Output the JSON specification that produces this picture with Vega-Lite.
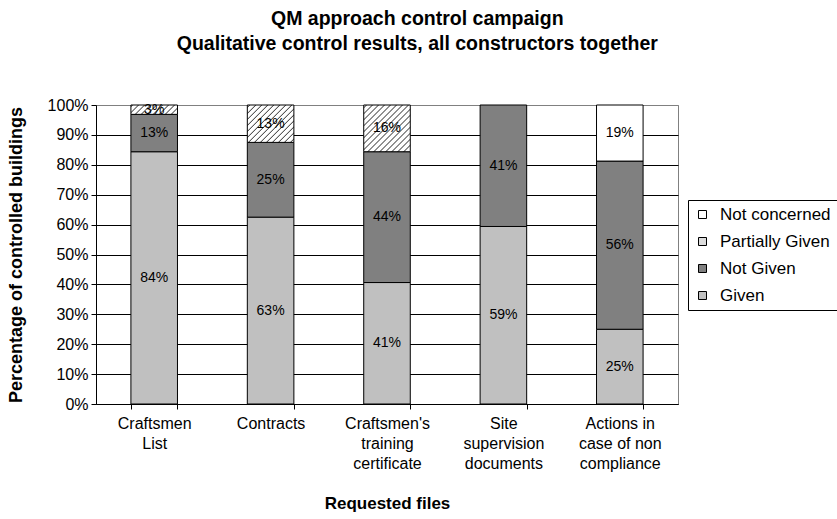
{
  "$schema": "https://vega.github.io/schema/vega-lite/v6.json",
  "autosize": {"type": "none"},
  "width": 582,
  "height": 299,
  "padding": {"left": 96, "top": 105, "right": 159, "bottom": 115},
  "background": "white",
  "config": {
    "font": "Liberation Sans",
    "view": {"stroke": "#808080", "strokeWidth": 1},
    "axis": {"labelColor": "black", "titleColor": "black", "domainColor": "black", "tickColor": "black", "labelFont": "Liberation Sans", "titleFont": "Liberation Sans"},
    "legend": {"labelFont": "Liberation Sans"}
  },
  "title": {
    "text": ["QM approach control campaign", "Qualitative control results, all constructors together"],
    "fontSize": 19.5,
    "fontWeight": "bold",
    "color": "black",
    "lineHeight": 25,
    "frame": "bounds",
    "anchor": "middle",
    "offset": 43,
    "dx": -5
  },
  "data": {
    "values": [
      {"file": "Craftsmen List", "status": "Given", "value": 0.84375},
      {"file": "Craftsmen List", "status": "Not Given", "value": 0.125},
      {"file": "Craftsmen List", "status": "Partially Given", "value": 0.03125},
      {"file": "Contracts", "status": "Given", "value": 0.625},
      {"file": "Contracts", "status": "Not Given", "value": 0.25},
      {"file": "Contracts", "status": "Partially Given", "value": 0.125},
      {"file": "Craftsmen's training certificate", "status": "Given", "value": 0.40625},
      {"file": "Craftsmen's training certificate", "status": "Not Given", "value": 0.4375},
      {"file": "Craftsmen's training certificate", "status": "Partially Given", "value": 0.15625},
      {"file": "Site supervision documents", "status": "Given", "value": 0.59375},
      {"file": "Site supervision documents", "status": "Not Given", "value": 0.40625},
      {"file": "Actions in case of non compliance", "status": "Given", "value": 0.25},
      {"file": "Actions in case of non compliance", "status": "Not Given", "value": 0.5625},
      {"file": "Actions in case of non compliance", "status": "Not concerned", "value": 0.1875}
    ]
  },
  "encoding": {
    "x": {
      "field": "file",
      "type": "nominal",
      "sort": null,
      "scale": {"paddingInner": 0.6, "paddingOuter": 0.3},
      "axis": {
        "title": "Requested files",
        "titleFontSize": 17,
        "titleFontWeight": "bold",
        "titlePadding": 24,
        "labelAngle": 0,
        "labelFontSize": 16,
        "labelLineHeight": 20,
        "labelPadding": 6,
        "tickSize": 5,
        "tickBand": "extent",
        "labelExpr": "datum.label === 'Craftsmen List' ? ['Craftsmen', 'List'] : datum.label === 'Contracts' ? ['Contracts'] : datum.label === \"Craftsmen's training certificate\" ? [\"Craftsmen's\", 'training', 'certificate'] : datum.label === 'Site supervision documents' ? ['Site', 'supervision', 'documents'] : datum.label === 'Actions in case of non compliance' ? ['Actions in', 'case of non', 'compliance'] : ''"
      }
    }
  },
  "layer": [
    {
      "mark": {"type": "bar", "stroke": "black", "strokeWidth": 1},
      "encoding": {
        "y": {
          "field": "value",
          "type": "quantitative",
          "stack": "zero",
          "scale": {"domain": [0, 1], "nice": false},
          "axis": {
            "title": "Percentage of controlled buildings",
            "titleFontSize": 18,
            "titleFontWeight": "bold",
            "titlePadding": 22,
            "values": [0, 0.1, 0.2, 0.3, 0.4, 0.5, 0.6, 0.7, 0.8, 0.9, 1],
            "labelOverlap": false,
            "format": ".0%",
            "labelFontSize": 16,
            "labelPadding": 3,
            "tickSize": 5,
            "grid": true,
            "gridColor": {"condition": {"test": "datum.value === 1", "value": "#808080"}, "value": "black"},
            "gridOpacity": 1
          }
        },
        "order": {"field": "status", "sort": "ascending"},
        "fill": {
          "field": "status",
          "type": "nominal",
          "scale": {
            "domain": ["Not concerned", "Partially Given", "Not Given", "Given"],
            "range": ["#ffffff", "#dcdcdc", "#808080", "#c0c0c0"]
          },
          "legend": {
            "title": null,
            "orient": "none",
            "legendX": 592,
            "legendY": 95,
            "labelFontSize": 17,
            "labelColor": "black",
            "labelOffset": 9,
            "symbolType": "square",
            "symbolSize": 64,
            "symbolStrokeColor": "black",
            "symbolStrokeWidth": 1,
            "rowPadding": 9,
            "padding": 6,
            "strokeColor": "black",
            "fillColor": "white"
          },
          "condition": [
            {
              "test": "datum.status === 'Partially Given' && datum.file === 'Craftsmen List'",
              "value": {
                "gradient": "linear", "x1": 0, "y1": 0, "x2": 1.154, "y2": 0.2315,
                "stops": [
                  {"offset": 0, "color": "#ffffff"},
                  {"offset": 0.008, "color": "#ffffff"}, {"offset": 0.030, "color": "#444444"}, {"offset": 0.052, "color": "#ffffff"},
                  {"offset": 0.115, "color": "#ffffff"}, {"offset": 0.137, "color": "#444444"}, {"offset": 0.159, "color": "#ffffff"},
                  {"offset": 0.223, "color": "#ffffff"}, {"offset": 0.245, "color": "#444444"}, {"offset": 0.267, "color": "#ffffff"},
                  {"offset": 0.330, "color": "#ffffff"}, {"offset": 0.352, "color": "#444444"}, {"offset": 0.374, "color": "#ffffff"},
                  {"offset": 0.437, "color": "#ffffff"}, {"offset": 0.459, "color": "#444444"}, {"offset": 0.481, "color": "#ffffff"},
                  {"offset": 0.545, "color": "#ffffff"}, {"offset": 0.567, "color": "#444444"}, {"offset": 0.589, "color": "#ffffff"},
                  {"offset": 0.652, "color": "#ffffff"}, {"offset": 0.674, "color": "#444444"}, {"offset": 0.696, "color": "#ffffff"},
                  {"offset": 0.759, "color": "#ffffff"}, {"offset": 0.781, "color": "#444444"}, {"offset": 0.803, "color": "#ffffff"},
                  {"offset": 0.866, "color": "#ffffff"}, {"offset": 0.888, "color": "#444444"}, {"offset": 0.910, "color": "#ffffff"},
                  {"offset": 1, "color": "#ffffff"}
                ]
              }
            },
            {
              "test": "datum.status === 'Partially Given' && datum.file === 'Contracts'",
              "value": {
                "gradient": "linear", "x1": 0, "y1": 0, "x2": 1.096, "y2": 0.880,
                "stops": [
                  {"offset": 0, "color": "#ffffff"},
                  {"offset": 0.016, "color": "#ffffff"}, {"offset": 0.030, "color": "#444444"}, {"offset": 0.044, "color": "#ffffff"},
                  {"offset": 0.088, "color": "#ffffff"}, {"offset": 0.102, "color": "#444444"}, {"offset": 0.116, "color": "#ffffff"},
                  {"offset": 0.159, "color": "#ffffff"}, {"offset": 0.173, "color": "#444444"}, {"offset": 0.187, "color": "#ffffff"},
                  {"offset": 0.231, "color": "#ffffff"}, {"offset": 0.245, "color": "#444444"}, {"offset": 0.259, "color": "#ffffff"},
                  {"offset": 0.302, "color": "#ffffff"}, {"offset": 0.316, "color": "#444444"}, {"offset": 0.330, "color": "#ffffff"},
                  {"offset": 0.374, "color": "#ffffff"}, {"offset": 0.388, "color": "#444444"}, {"offset": 0.402, "color": "#ffffff"},
                  {"offset": 0.445, "color": "#ffffff"}, {"offset": 0.459, "color": "#444444"}, {"offset": 0.473, "color": "#ffffff"},
                  {"offset": 0.517, "color": "#ffffff"}, {"offset": 0.531, "color": "#444444"}, {"offset": 0.545, "color": "#ffffff"},
                  {"offset": 0.588, "color": "#ffffff"}, {"offset": 0.602, "color": "#444444"}, {"offset": 0.616, "color": "#ffffff"},
                  {"offset": 0.660, "color": "#ffffff"}, {"offset": 0.674, "color": "#444444"}, {"offset": 0.688, "color": "#ffffff"},
                  {"offset": 0.731, "color": "#ffffff"}, {"offset": 0.745, "color": "#444444"}, {"offset": 0.759, "color": "#ffffff"},
                  {"offset": 0.803, "color": "#ffffff"}, {"offset": 0.817, "color": "#444444"}, {"offset": 0.831, "color": "#ffffff"},
                  {"offset": 0.874, "color": "#ffffff"}, {"offset": 0.888, "color": "#444444"}, {"offset": 0.902, "color": "#ffffff"},
                  {"offset": 0.946, "color": "#ffffff"}, {"offset": 0.960, "color": "#444444"}, {"offset": 0.974, "color": "#ffffff"},
                  {"offset": 1, "color": "#ffffff"}
                ]
              }
            },
            {
              "test": "datum.status === 'Partially Given' && datum.file === \"Craftsmen's training certificate\"",
              "value": {
                "gradient": "linear", "x1": 0, "y1": 0, "x2": 0.9985, "y2": 1.0015,
                "stops": [
                  {"offset": 0, "color": "#ffffff"},
                  {"offset": 0.017, "color": "#ffffff"}, {"offset": 0.030, "color": "#444444"}, {"offset": 0.043, "color": "#ffffff"},
                  {"offset": 0.081, "color": "#ffffff"}, {"offset": 0.094, "color": "#444444"}, {"offset": 0.107, "color": "#ffffff"},
                  {"offset": 0.146, "color": "#ffffff"}, {"offset": 0.159, "color": "#444444"}, {"offset": 0.172, "color": "#ffffff"},
                  {"offset": 0.210, "color": "#ffffff"}, {"offset": 0.223, "color": "#444444"}, {"offset": 0.236, "color": "#ffffff"},
                  {"offset": 0.274, "color": "#ffffff"}, {"offset": 0.287, "color": "#444444"}, {"offset": 0.300, "color": "#ffffff"},
                  {"offset": 0.339, "color": "#ffffff"}, {"offset": 0.352, "color": "#444444"}, {"offset": 0.365, "color": "#ffffff"},
                  {"offset": 0.403, "color": "#ffffff"}, {"offset": 0.416, "color": "#444444"}, {"offset": 0.429, "color": "#ffffff"},
                  {"offset": 0.467, "color": "#ffffff"}, {"offset": 0.480, "color": "#444444"}, {"offset": 0.493, "color": "#ffffff"},
                  {"offset": 0.531, "color": "#ffffff"}, {"offset": 0.544, "color": "#444444"}, {"offset": 0.557, "color": "#ffffff"},
                  {"offset": 0.596, "color": "#ffffff"}, {"offset": 0.609, "color": "#444444"}, {"offset": 0.622, "color": "#ffffff"},
                  {"offset": 0.660, "color": "#ffffff"}, {"offset": 0.673, "color": "#444444"}, {"offset": 0.686, "color": "#ffffff"},
                  {"offset": 0.724, "color": "#ffffff"}, {"offset": 0.737, "color": "#444444"}, {"offset": 0.750, "color": "#ffffff"},
                  {"offset": 0.789, "color": "#ffffff"}, {"offset": 0.802, "color": "#444444"}, {"offset": 0.815, "color": "#ffffff"},
                  {"offset": 0.853, "color": "#ffffff"}, {"offset": 0.866, "color": "#444444"}, {"offset": 0.879, "color": "#ffffff"},
                  {"offset": 0.917, "color": "#ffffff"}, {"offset": 0.930, "color": "#444444"}, {"offset": 0.943, "color": "#ffffff"},
                  {"offset": 1, "color": "#ffffff"}
                ]
              }
            }
          ]
        }
      }
    },
    {
      "mark": {"type": "text", "fill": "black", "color": "black", "fontSize": 14, "baseline": "middle", "align": "center"},
      "encoding": {
        "y": {
          "field": "value",
          "type": "quantitative",
          "stack": "zero",
          "bandPosition": 0.5,
          "scale": {"domain": [0, 1], "nice": false},
          "axis": {
            "title": "Percentage of controlled buildings",
            "titleFontSize": 18,
            "titleFontWeight": "bold",
            "titlePadding": 22,
            "values": [0, 0.1, 0.2, 0.3, 0.4, 0.5, 0.6, 0.7, 0.8, 0.9, 1],
            "labelOverlap": false,
            "format": ".0%",
            "labelFontSize": 16,
            "labelPadding": 3,
            "tickSize": 5,
            "grid": true,
            "gridColor": {"condition": {"test": "datum.value === 1", "value": "#808080"}, "value": "black"},
            "gridOpacity": 1
          }
        },
        "order": {"field": "status", "sort": "ascending"},
        "text": {"field": "value", "type": "quantitative", "format": ".0%"},
        "fontSize": {"condition": {"test": "datum.status === 'Not concerned'", "value": 12}, "value": 14}
      }
    }
  ]
}
